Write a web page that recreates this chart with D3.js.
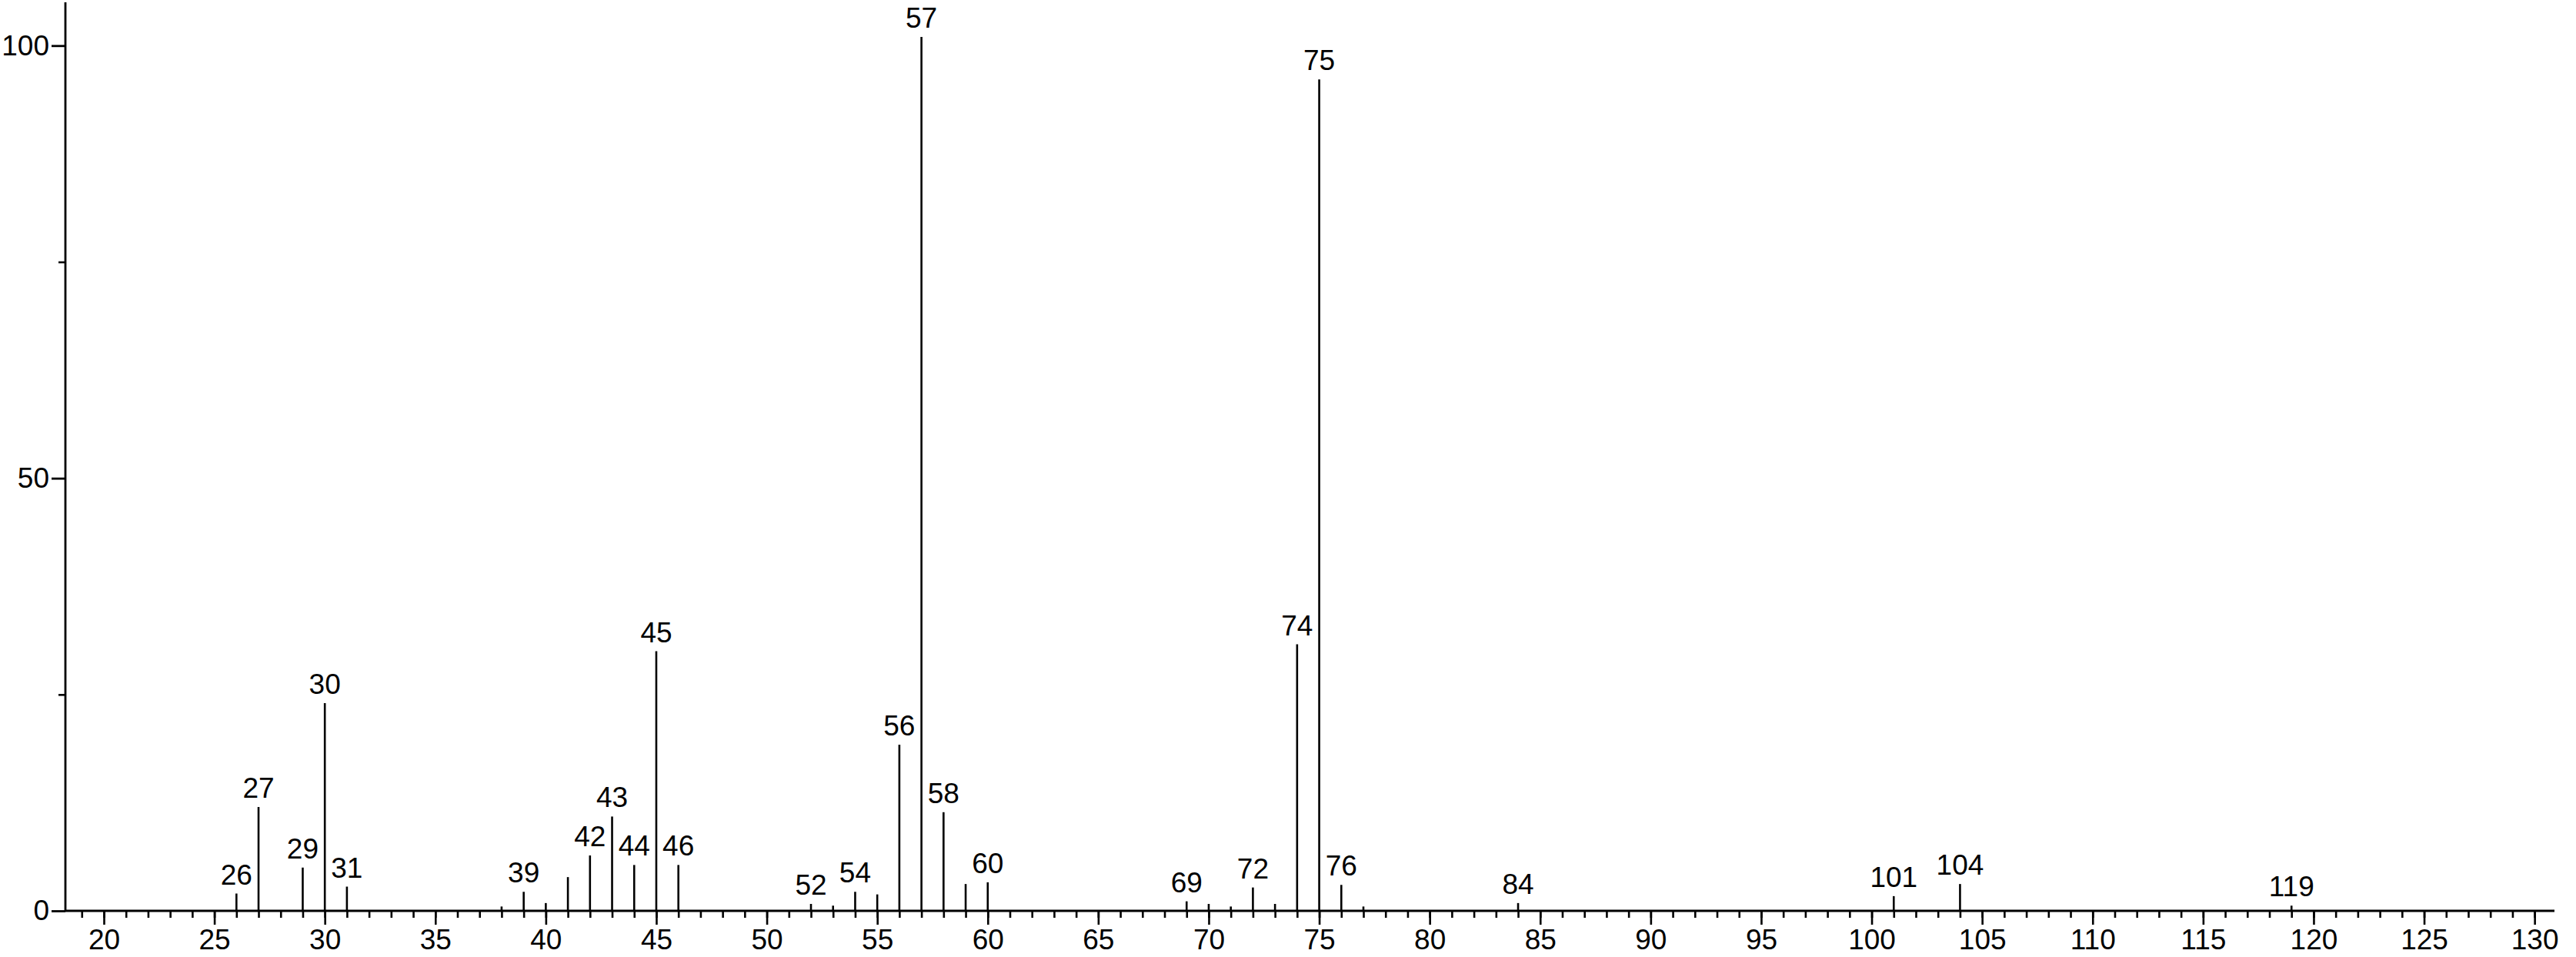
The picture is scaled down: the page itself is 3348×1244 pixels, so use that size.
<!DOCTYPE html>
<html>
<head>
<meta charset="utf-8">
<script src="https://cdn.jsdelivr.net/npm/d3@7"></script>
<style>
  html, body { margin: 0; padding: 0; background: #fff; }
  svg { display: block; }
  text { font-family: "Liberation Sans", Arial, sans-serif; fill: #000; }
</style>
</head>
<body>
<div id="chart"></div>
<script>
// m/z values of the peaks and their relative intensities
const mz = [26, 27, 29, 30, 31, 38, 39, 40, 41, 42, 43, 44, 45, 46,
            52, 53, 54, 55, 56, 57, 58, 59, 60,
            69, 70, 71, 72, 73, 74, 75, 76, 77, 84, 101, 104, 119];
const intensity = [2.0, 12.0, 5.0, 24.0, 2.8, 0.5, 2.2, 0.9, 3.9, 6.4, 10.9, 5.3, 30.0, 5.3,
                   0.8, 0.6, 2.2, 1.9, 19.2, 101, 11.4, 3.1, 3.3,
                   1.1, 0.8, 0.5, 2.7, 0.8, 30.8, 96.1, 3.0, 0.5, 0.9, 1.7, 3.1, 0.6];
// peaks that carry a label
const labelled = [26, 27, 29, 30, 31, 39, 42, 43, 44, 45, 46, 52, 54, 56, 57, 58, 60,
                  69, 72, 74, 75, 76, 84, 101, 104, 119];
const xMajorTicks = d3.range(20, 131, 5);
const xMinorTicks = d3.range(19, 131, 1);
const yMajorTicks = [0, 50, 100];
const yMinorTicks = [25, 75];

const W = 3348, H = 1244;
const x = d3.scaleLinear().domain([18.26, 130.9]).range([85, 3320]);
const y = d3.scaleLinear().domain([0, 100]).range([1184, 59.3]);

const svg = d3.select('#chart').append('svg')
  .attr('width', W).attr('height', H);

const fontSize = 37;

// x axis: minor ticks, then major ticks with labels
svg.append('g')
  .attr('transform', `translate(0,${y(0)})`)
  .call(d3.axisBottom(x).tickValues(xMinorTicks).tickSize(9).tickSizeOuter(0).tickFormat(''))
  .call(g => g.select('.domain').remove())
  .call(g => g.selectAll('line').attr('stroke', '#000').attr('stroke-width', 2.6));

svg.append('g')
  .attr('transform', `translate(0,${y(0)})`)
  .call(d3.axisBottom(x).tickValues(xMajorTicks).tickSize(18).tickSizeOuter(0).tickPadding(6).tickFormat(d3.format('d')))
  .call(g => g.select('.domain').attr('stroke', '#000').attr('stroke-width', 3.2)
    .attr('d', `M${x.range()[0]},0H${x.range()[1]}`))
  .call(g => g.selectAll('line').attr('stroke', '#000').attr('stroke-width', 2.6))
  .call(g => g.selectAll('text').attr('font-size', fontSize).attr('font-family', null));

// y axis
svg.append('g')
  .attr('transform', `translate(${x.range()[0]},0)`)
  .call(d3.axisLeft(y).tickValues(yMinorTicks).tickSize(9).tickSizeOuter(0).tickFormat(''))
  .call(g => g.select('.domain').remove())
  .call(g => g.selectAll('line').attr('stroke', '#000').attr('stroke-width', 2.6));

svg.append('g')
  .attr('transform', `translate(${x.range()[0]},0)`)
  .call(d3.axisLeft(y).tickValues(yMajorTicks).tickSize(18).tickSizeOuter(0).tickPadding(3).tickFormat(d3.format('d')))
  .call(g => g.select('.domain').attr('stroke', '#000').attr('stroke-width', 2.8)
    .attr('d', `M0,${y(0)}V${y(105)}`))
  .call(g => g.selectAll('line').attr('stroke', '#000').attr('stroke-width', 2.8))
  .call(g => g.selectAll('text').attr('font-size', fontSize).attr('font-family', null));

// peaks
const peaks = mz.map((m, i) => ({ m, v: intensity[i] }));

svg.append('g')
  .selectAll('line')
  .data(peaks)
  .join('line')
    .attr('x1', d => x(d.m)).attr('x2', d => x(d.m))
    .attr('y1', y(0)).attr('y2', d => y(d.v))
    .attr('stroke', '#000')
    .attr('stroke-width', 2.6);

svg.append('g')
  .selectAll('text')
  .data(peaks.filter(d => labelled.includes(d.m)))
  .join('text')
    .attr('x', d => x(d.m))
    .attr('y', d => y(d.v) - 12)
    .attr('text-anchor', 'middle')
    .attr('font-size', fontSize)
    .text(d => d.m);
</script>
</body>
</html>
